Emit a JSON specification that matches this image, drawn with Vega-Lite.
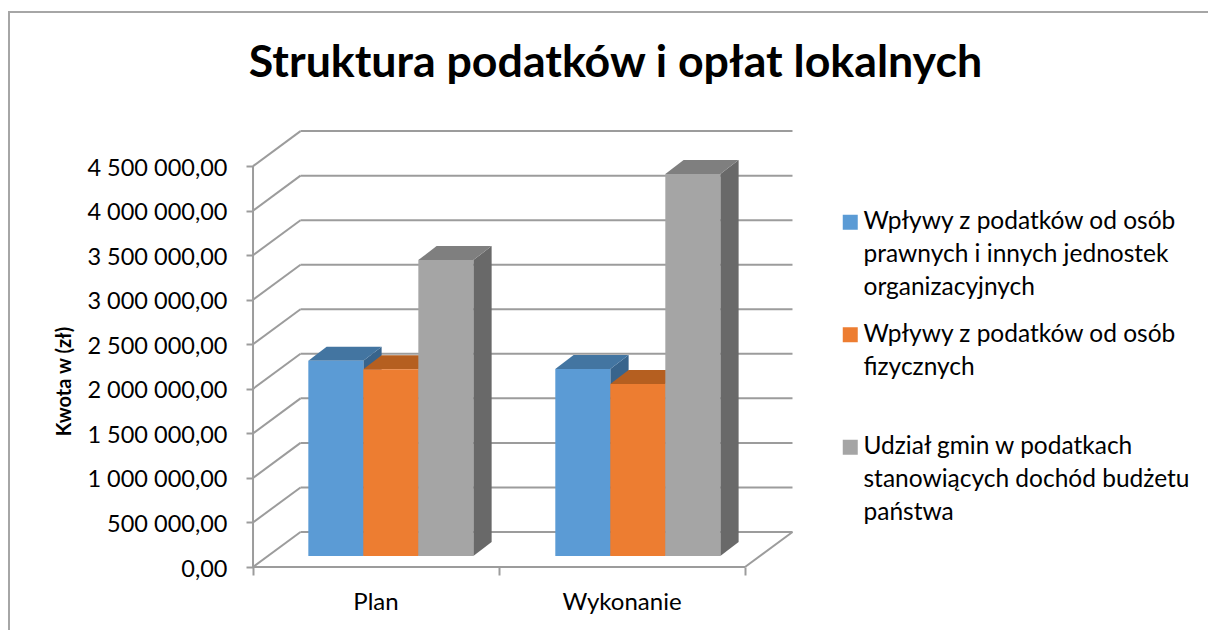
{
"$schema":"https://vega.github.io/schema/vega-lite/v6.json",
"width":1205,"height":622,
"autosize":{"type":"none"},
"padding":{"left":9,"top":12,"right":-6,"bottom":-4},
"background":"#ffffff",
"view":{"stroke":"#a6a6a6","strokeWidth":2,"fill":"#ffffff"},
"title":{"text":"Struktura podatków i opłat lokalnych","anchor":"middle","font":"Lato","fontWeight":"bold","fontSize":44.7,"color":"#000000","offset":-75,"dx":4},
"datasets":{
"wyniki":[
{"kategoria":"Plan","seria":"Wpływy z podatków od osób prawnych i innych jednostek organizacyjnych","kwota":2192000},
{"kategoria":"Plan","seria":"Wpływy z podatków od osób fizycznych","kwota":2096000},
{"kategoria":"Plan","seria":"Udział gmin w podatkach stanowiących dochód budżetu państwa","kwota":3322000},
{"kategoria":"Wykonanie","seria":"Wpływy z podatków od osób prawnych i innych jednostek organizacyjnych","kwota":2100000},
{"kategoria":"Wykonanie","seria":"Wpływy z podatków od osób fizycznych","kwota":1930000},
{"kategoria":"Wykonanie","seria":"Udział gmin w podatkach stanowiących dochód budżetu państwa","kwota":4288000}
],
"progi":[{"v":0},{"v":500000},{"v":1000000},{"v":1500000},{"v":2000000},{"v":2500000},{"v":3000000},{"v":3500000},{"v":4000000},{"v":4500000}],
"kategorie":[{"kategoria":"Plan","poz":0.5},{"kategoria":"Wykonanie","poz":1.5}]
},
"layer":[
{"data":{"name":"progi"},"transform":[{"calculate":"datum.v+393000","as":"vb"}],"mark":{"type":"rule","color":"#9c9c9c","strokeWidth":2},
 "encoding":{"x":{"datum":0,"type":"quantitative","scale":{"domain":[-0.992,3.9065],"nice":false,"zero":false},"axis":{"values":[0,1,2],"title":null,"labels":false,"grid":false,"domain":false,"ticks":true,"tickColor":"#9c9c9c","tickWidth":2,"tickSize":8,"offset":-67}},
 "x2":{"datum":0.193},
 "y":{"field":"v","type":"quantitative","scale":{"domain":[-752075,6229875],"nice":false,"zero":false},"axis":{"values":[0,500000,1000000,1500000,2000000,2500000,3000000,3500000,4000000,4500000],"grid":false,"domain":false,"tickColor":"#9c9c9c","tickWidth":2,"tickSize":7,"offset":-244,"labelFont":"Lato","labelFontSize":23.5,"labelColor":"#000000","labelPadding":19,"labelOffset":2,"labelExpr":"replace(replace(format(datum.value,',.2f'),/,/g,' '),'.',',')","title":"Kwota w (zł)","titleFont":"Lato","titleFontSize":20,"titleFontWeight":"bold","titleColor":"#000000","titleX":-179,"titleY":369}},
 "y2":{"field":"vb"}}},
{"data":{"name":"progi"},"transform":[{"calculate":"datum.v+393000","as":"vb"}],"mark":{"type":"rule","color":"#9c9c9c","strokeWidth":2},
 "encoding":{"x":{"datum":0.193},"x2":{"datum":2.193},"y":{"field":"vb","type":"quantitative"}}},
{"data":{"values":[{"a":0,"b":4500000}]},"mark":{"type":"rule","color":"#9c9c9c","strokeWidth":2},
 "encoding":{"x":{"datum":0},"y":{"field":"a","type":"quantitative"},"y2":{"field":"b"}}},
{"data":{"values":[{"a":0}]},"mark":{"type":"rule","color":"#9c9c9c","strokeWidth":2},
 "encoding":{"x":{"datum":0},"x2":{"datum":2},"y":{"field":"a","type":"quantitative"}}},
{"data":{"values":[{"a":0,"b":393000}]},"mark":{"type":"rule","color":"#9c9c9c","strokeWidth":2},
 "encoding":{"x":{"datum":2},"x2":{"datum":2.193},"y":{"field":"a","type":"quantitative"},"y2":{"field":"b"}}},
{"data":{"name":"kategorie"},"mark":{"type":"text","font":"Lato","fontSize":24,"color":"#000000","dy":36},
 "encoding":{"x":{"field":"poz","type":"quantitative"},"y":{"datum":0},"text":{"field":"kategoria"}}},
{"data":{"name":"wyniki"},
 "transform":[
  {"calculate":"(datum.kategoria=='Plan'?0:1.004)+0.2248+0.2236*(indexof(datum.seria,'Udział')==0?2:(indexof(datum.seria,'fizycznych')>0?1:0))","as":"x0"},
  {"calculate":"0","as":"p0"},{"calculate":"1","as":"p1"},
  {"fold":["p0","p1"],"as":["k","t"]},
  {"calculate":"datum.x0+0.2236+datum.t*0.0744","as":"xs"},
  {"calculate":"123000+datum.t*157000","as":"ys0"},
  {"calculate":"123000+datum.kwota+datum.t*157000","as":"ys1"},
  {"calculate":"'bok '+datum.seria","as":"sciana"}
 ],
 "mark":{"type":"area","interpolate":"linear"},
 "encoding":{"x":{"field":"xs","type":"quantitative"},"y":{"field":"ys0","type":"quantitative","stack":null},"y2":{"field":"ys1"},"detail":{"field":"x0"},
 "fill":{"field":"sciana","scale":{"domain":[
 "bok Wpływy z podatków od osób prawnych i innych jednostek organizacyjnych","bok Wpływy z podatków od osób fizycznych","bok Udział gmin w podatkach stanowiących dochód budżetu państwa",
 "góra Wpływy z podatków od osób prawnych i innych jednostek organizacyjnych","góra Wpływy z podatków od osób fizycznych","góra Udział gmin w podatkach stanowiących dochód budżetu państwa"],
 "range":["#38648c","#9e5223","#696969","#4375a1","#b55f20","#7f7f7f"]},"legend":null}}},
{"data":{"name":"wyniki"},
 "transform":[
  {"calculate":"(datum.kategoria=='Plan'?0:1.004)+0.2248+0.2236*(indexof(datum.seria,'Udział')==0?2:(indexof(datum.seria,'fizycznych')>0?1:0))","as":"x0"},
  {"calculate":"0","as":"p0"},{"calculate":"1","as":"p1"},
  {"fold":["p0","p1"],"as":["k","t"]},
  {"calculate":"datum.x0+datum.t*0.0744","as":"xa"},
  {"calculate":"datum.x0+0.2236+datum.t*0.0744","as":"xb"},
  {"calculate":"123000+datum.kwota+datum.t*157000","as":"yt"},
  {"calculate":"'góra '+datum.seria","as":"sciana"}
 ],
 "mark":{"type":"area","orient":"horizontal","interpolate":"linear"},
 "encoding":{"y":{"field":"yt","type":"quantitative"},"x":{"field":"xa","type":"quantitative","stack":null},"x2":{"field":"xb"},"detail":{"field":"x0"},"fill":{"field":"sciana"}}},
{"data":{"name":"wyniki"},
 "transform":[
  {"calculate":"(datum.kategoria=='Plan'?0:1.004)+0.2248+0.2236*(indexof(datum.seria,'Udział')==0?2:(indexof(datum.seria,'fizycznych')>0?1:0))","as":"x0"},
  {"calculate":"datum.x0+0.2236","as":"x1"},
  {"calculate":"123000+datum.kwota","as":"yt"},
  {"calculate":"123000","as":"yb"}
 ],
 "mark":{"type":"rect"},
 "encoding":{"x":{"field":"x0","type":"quantitative"},"x2":{"field":"x1"},"y":{"field":"yb","type":"quantitative"},"y2":{"field":"yt"},
 "color":{"field":"seria","type":"nominal","scale":{"domain":["Wpływy z podatków od osób prawnych i innych jednostek organizacyjnych","Wpływy z podatków od osób fizycznych","Udział gmin w podatkach stanowiących dochód budżetu państwa"],"range":["#5b9bd5","#ed7d31","#a5a5a5"]},
 "legend":{"orient":"none","legendX":829,"legendY":198,"title":null,"symbolType":"square","symbolSize":225,"symbolStrokeWidth":0,"labelFont":"Lato","labelFontSize":24.5,"labelColor":"#000000","labelLimit":500,"labelBaseline":"middle","rowPadding":21.5,"labelOffset":1,"gridAlign":"all",
 "encoding":{"labels":{"lineHeight":{"value":33}}},
 "labelExpr":"indexof(datum.label,'prawnych')>0?['Wpływy z podatków od osób','prawnych i innych jednostek','organizacyjnych']:(indexof(datum.label,'fizycznych')>0?['Wpływy z podatków od osób','fizycznych']:['Udział gmin w podatkach','stanowiących dochód budżetu','państwa'])"}}}}
]
}
